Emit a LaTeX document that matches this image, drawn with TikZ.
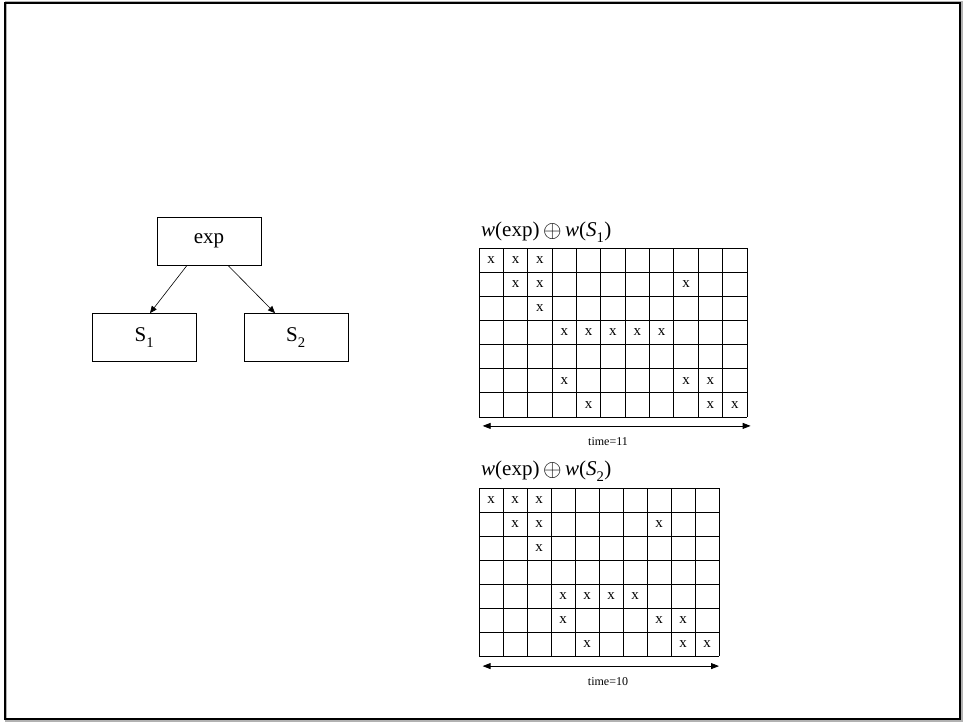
\documentclass[tikz,border=0pt]{standalone}
\usepackage{fontspec}
\setmainfont{Liberation Serif}
\usetikzlibrary{arrows.meta}
\newcommand{\lowsub}[1]{\raisebox{-0.3ex}{\textsubscript{#1}}}
\newcommand{\circplus}{\,\raisebox{-0.1ex}{\scalebox{1.15}{$\oplus$}}\,}
\begin{document}
\begin{tikzpicture}[x=1pt,y=-1pt,
  treebox/.style={draw,line width=0.8pt,minimum width=104pt,minimum height=48pt,inner sep=0pt,font=\fontsize{21}{23}\selectfont},
  tree/.style={-{Triangle[length=7pt,width=6pt]},line width=0.6pt},
  gridline/.style={line width=0.8pt},
  xmark/.style={font=\fontsize{15}{15}\selectfont,inner sep=0pt},
  span/.style={{Triangle[length=8pt,width=6pt]}-{Triangle[length=8pt,width=6pt]},line width=0.8pt},
  caption/.style={font=\fontsize{12}{12}\selectfont,inner sep=0pt},
  title/.style={font=\fontsize{21}{23}\selectfont,inner sep=0pt,anchor=west}]
\useasboundingbox (0,0) rectangle (963,723);
% frame with a soft grey edge
\draw[gray!60,line width=2pt] (6,2) rectangle (962,721);
\draw[line width=2pt] (5,3) rectangle (960,719);

% tree
\node[treebox] (exp) at (209,241) {exp};
\node[treebox] (s1) at (144.5,337.5) {S\lowsub{1}};
\node[treebox] (s2) at (296,337.5) {S\lowsub{2}};
\draw[tree] (exp.south -| 187,0) -- (s1.north -| 150,0);
\draw[tree] (exp.south -| 228,0) -- (s2.north -| 275,0);

% first grid: 11 columns by 7 rows
\node[title] (t1) at (481,232) {\textit{w}(exp)\circplus\textit{w}(\textit{S}\lowsub{1})};
\begin{scope}[shift={(479,248)},x=24.36pt,y=-24.14pt]
  \foreach \c in {0,...,11} \draw[gridline] (\c,0) -- (\c,7);
  \foreach \r in {0,...,7} \draw[gridline] (0,\r) -- (11,\r);
  \foreach \r/\c in {0/0,0/1,0/2,1/1,1/2,1/8,2/2,3/3,3/4,3/5,3/6,3/7,5/3,5/8,5/9,6/4,6/9,6/10}
    \node[xmark] (a\r-\c) at (\c+0.5,\r+0.5) {x};
  \coordinate (l1) at (0.15,7.37);
  \coordinate (r1) at (11.15,7.37);
\end{scope}
\draw[span] (l1) -- (r1);
\node[caption] (c1) at (608,442) {time=11};

% second grid: 10 columns by 7 rows
\node[title] (t2) at (481,471) {\textit{w}(exp)\circplus\textit{w}(\textit{S}\lowsub{2})};
\begin{scope}[shift={(479,488)},x=24pt,y=-24pt]
  \foreach \c in {0,...,10} \draw[gridline] (\c,0) -- (\c,7);
  \foreach \r in {0,...,7} \draw[gridline] (0,\r) -- (10,\r);
  \foreach \r/\c in {0/0,0/1,0/2,1/1,1/2,1/7,2/2,4/3,4/4,4/5,4/6,5/3,5/7,5/8,6/4,6/8,6/9}
    \node[xmark] (b\r-\c) at (\c+0.5,\r+0.5) {x};
  \coordinate (l2) at (0.15,7.42);
  \coordinate (r2) at (10.0,7.42);
\end{scope}
\draw[span] (l2) -- (r2);
\node[caption] (c2) at (608,682) {time=10};
\end{tikzpicture}
\end{document}
